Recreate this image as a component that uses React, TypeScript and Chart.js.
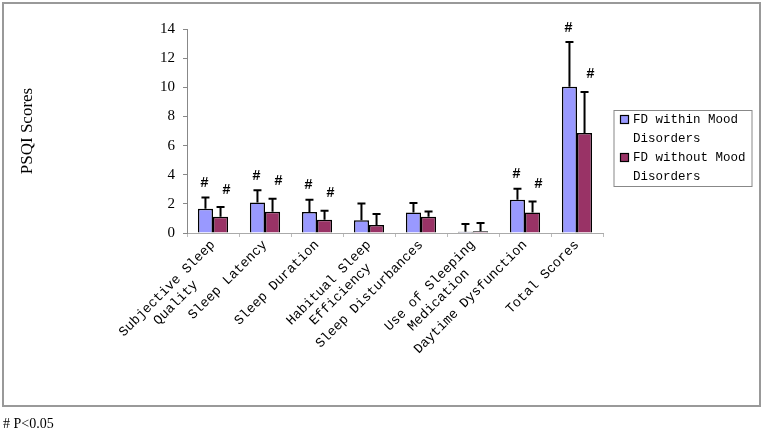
import React, { useEffect, useRef } from "react";
import { Chart, registerables, Plugin } from "chart.js";

Chart.register(...registerables);

// second lines are padded so they sit centred under the first (mono font)
const categories: (string | string[])[] = [
  ["Subjective Sleep", "Quality     "],
  "Sleep Latency",
  "Sleep Duration",
  ["Habitual Sleep", "Efficiency  "],
  "Sleep Disturbances",
  ["Use of Sleeping", "Medication   "],
  "Daytime Dysfunction",
  "Total Scores",
];

const withinMood = [1.67, 2.1, 1.44, 0.87, 1.41, 0.08, 2.29, 10.04];
const withinSD = [0.77, 0.83, 0.85, 1.16, 0.65, 0.54, 0.75, 3.06];
const withoutMood = [1.12, 1.46, 0.91, 0.55, 1.12, 0.12, 1.41, 6.86];
const withoutSD = [0.66, 0.89, 0.62, 0.75, 0.36, 0.57, 0.76, 2.82];
const significant = [true, true, true, false, false, false, true, true];

const yTicks = [0, 2, 4, 6, 8, 10, 12, 14];

const seriesNames = [
  ["FD within Mood", "Disorders"],
  ["FD without Mood", "Disorders"],
];
const colors = ["#9999FF", "#993366"];

const mono = "'Liberation Mono', 'DejaVu Sans Mono', monospace";
const serif = "'Liberation Serif', 'Times New Roman', serif";

const extras: Plugin<"bar"> = {
  id: "extras",
  beforeDraw(chart) {
    const ctx = chart.ctx;
    ctx.save();
    ctx.fillStyle = "#fff";
    ctx.fillRect(0, 0, chart.width, chart.height);
    ctx.strokeStyle = "#999";
    ctx.lineWidth = 2;
    ctx.strokeRect(3, 3, 757, 403);
    ctx.fillStyle = "#000";
    ctx.font = `14px ${serif}`;
    ctx.textBaseline = "middle";
    ctx.textAlign = "left";
    ctx.fillText("# P<0.05", 3, 424);
    ctx.restore();
  },
  afterDatasetsDraw(chart) {
    const ctx = chart.ctx;
    const y = chart.scales.y;
    const sds = [withinSD, withoutSD];
    ctx.save();
    chart.data.datasets.forEach((ds, i) => {
      const meta = chart.getDatasetMeta(i);
      meta.data.forEach((bar: any, j) => {
        const v = ds.data[j] as number;
        const top = y.getPixelForValue(v + sds[i][j]);
        ctx.strokeStyle = "#000";
        ctx.lineWidth = 2;
        ctx.beginPath();
        ctx.moveTo(bar.x, bar.y);
        ctx.lineTo(bar.x, top);
        ctx.moveTo(bar.x - 4, top);
        ctx.lineTo(bar.x + 4, top);
        ctx.stroke();
        if (significant[j]) {
          ctx.fillStyle = "#000";
          ctx.font = `bold 14px ${mono}`;
          ctx.textAlign = "center";
          ctx.textBaseline = "middle";
          const dx = i === 0 ? -1 : 6;
          const dy = i === 0 ? 14 : 17;
          ctx.fillText("#", bar.x + dx, top - dy);
        }
      });
    });
    // legend
    const lx = 614;
    const ly = 110.5;
    ctx.strokeStyle = "#888";
    ctx.lineWidth = 1;
    ctx.strokeRect(lx, ly, 138, 76);
    ctx.font = `12.5px ${mono}`;
    ctx.textAlign = "left";
    ctx.textBaseline = "middle";
    seriesNames.forEach((lines, i) => {
      const base = ly + 9 + i * 38;
      ctx.fillStyle = colors[i];
      ctx.fillRect(lx + 6.5, base - 4, 8, 8);
      ctx.strokeStyle = "#000";
      ctx.lineWidth = 1.2;
      ctx.strokeRect(lx + 6.5, base - 4, 8, 8);
      ctx.fillStyle = "#000";
      lines.forEach((t, k) => ctx.fillText(t, lx + 19, base + k * 19));
    });
    ctx.restore();
  },
};

export default function App() {
  const canvasRef = useRef<HTMLCanvasElement | null>(null);

  useEffect(() => {
    if (!canvasRef.current) return;
    const chart = new Chart(canvasRef.current, {
      type: "bar",
      data: {
        labels: categories,
        datasets: [
          {
            label: "FD within Mood Disorders",
            data: withinMood,
            backgroundColor: colors[0],
            borderColor: "#000",
            borderWidth: 1.5,
            borderSkipped: "bottom",
          },
          {
            label: "FD without Mood Disorders",
            data: withoutMood,
            backgroundColor: colors[1],
            borderColor: "#000",
            borderWidth: 1.5,
            borderSkipped: "bottom",
          },
        ],
      },
      options: {
        animation: false,
        responsive: false,
        devicePixelRatio: 1,
        layout: { padding: { left: 0, top: 29, right: 162, bottom: 0 } },
        categoryPercentage: 0.58,
        barPercentage: 1,
        plugins: {
          legend: { display: false },
          tooltip: { enabled: false },
        },
        scales: {
          x: {
            grid: {
              drawOnChartArea: false,
              drawTicks: true,
              tickLength: 4,
              color: "#bbb",
            },
            border: { display: true, color: "#aaa", width: 1 },
            ticks: {
              maxRotation: 45,
              minRotation: 45,
              color: "#000",
              padding: 0,
              font: { family: mono, size: 13.5 },
            },
            afterFit(scale) {
              scale.height = 201;
            },
          },
          y: {
            min: 0,
            max: 14,
            grid: {
              drawOnChartArea: false,
              drawTicks: true,
              tickLength: 4,
              color: "#888",
            },
            border: { display: true, color: "#888", width: 1 },
            afterBuildTicks(scale) {
              scale.ticks = yTicks.map((v) => ({ value: v }));
            },
            ticks: {
              color: "#000",
              padding: 8,
              font: { family: serif, size: 15 },
            },
            title: {
              display: true,
              text: "PSQI Scores",
              color: "#000",
              font: { family: serif, size: 17 },
              padding: { top: 17, bottom: 0 },
            },
            afterFit(scale) {
              scale.width = 187;
            },
          },
        },
      },
      plugins: [extras],
    });
    return () => chart.destroy();
  }, []);

  return (
    <div style={{ position: "absolute", left: 0, top: 0, width: 765, height: 434 }}>
      <canvas ref={canvasRef} width={765} height={434} />
    </div>
  );
}
